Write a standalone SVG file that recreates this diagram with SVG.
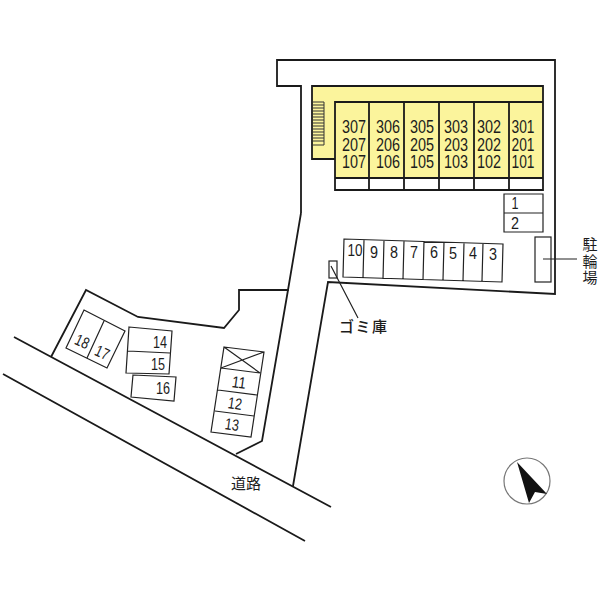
<svg xmlns="http://www.w3.org/2000/svg" width="600" height="600" viewBox="0 0 600 600">
<style>
.l{fill:none;stroke:#1a1a1a;stroke-width:1.8}
.m{fill:none;stroke:#222;stroke-width:1.2}
.t{font-family:"Liberation Sans",Arial,sans-serif;fill:#1c1c1c;text-anchor:middle}
.u{font-size:17.5px}
.p{font-size:16px}
.j{font-family:"Noto Sans CJK JP","Liberation Sans",sans-serif;fill:#1c1c1c;text-anchor:middle;font-size:15px}
</style>
<rect width="600" height="600" fill="#fff"/>
<g id="site">
<path class="l" d="M301 213V86H277V60H555V294L328 282L293 486"/>
<path class="l" d="M301 213L288 290H239V310L224 328L138 317L86 290L51 357"/>
<path class="l" d="M288 290L262 441L236 454"/>
<path class="l" d="M14 337L331 507M3 374L305 541"/>
</g>
<g id="building">
<path d="M312 86H543V178H335V159H312Z" fill="#fbf49c"/>
<path class="l" d="M335 159H312V86H543V190H335V102H543M335 178H543M369 102V190M404 102V190M439 102V190M474 102V190M509 102V190"/>
<path d="M313 102H324V145H313M313 105H324M313 108H324M313 111H324M313 114H324M313 117H324M313 120H324M313 123H324M313 126H324M313 129H324M313 132H324M313 135H324M313 138H324M313 141H324" fill="none" stroke="#333" stroke-width="1"/>
<g class="t u">
<text x="354" y="133" textLength="24" lengthAdjust="spacingAndGlyphs">307</text><text x="354" y="150.5" textLength="24" lengthAdjust="spacingAndGlyphs">207</text><text x="354" y="168" textLength="24" lengthAdjust="spacingAndGlyphs">107</text>
<text x="388" y="133" textLength="24" lengthAdjust="spacingAndGlyphs">306</text><text x="388" y="150.5" textLength="24" lengthAdjust="spacingAndGlyphs">206</text><text x="388" y="168" textLength="24" lengthAdjust="spacingAndGlyphs">106</text>
<text x="422" y="133" textLength="24" lengthAdjust="spacingAndGlyphs">305</text><text x="422" y="150.5" textLength="24" lengthAdjust="spacingAndGlyphs">205</text><text x="422" y="168" textLength="24" lengthAdjust="spacingAndGlyphs">105</text>
<text x="456" y="133" textLength="24" lengthAdjust="spacingAndGlyphs">303</text><text x="456" y="150.5" textLength="24" lengthAdjust="spacingAndGlyphs">203</text><text x="456" y="168" textLength="24" lengthAdjust="spacingAndGlyphs">103</text>
<text x="489" y="133" textLength="24" lengthAdjust="spacingAndGlyphs">302</text><text x="489" y="150.5" textLength="24" lengthAdjust="spacingAndGlyphs">202</text><text x="489" y="168" textLength="24" lengthAdjust="spacingAndGlyphs">102</text>
<text x="523" y="133" textLength="23" lengthAdjust="spacingAndGlyphs">301</text><text x="523" y="150.5" textLength="23" lengthAdjust="spacingAndGlyphs">201</text><text x="523" y="168" textLength="23" lengthAdjust="spacingAndGlyphs">101</text>
</g>
</g>
<g id="parking-1-2">
<path class="m" d="M504 194H543V232H504ZM504 213H543"/>
<g class="t p"><text x="515" y="209" textLength="7" lengthAdjust="spacingAndGlyphs">1</text><text x="515" y="229" textLength="8" lengthAdjust="spacingAndGlyphs">2</text></g>
</g>
<g id="bike-parking">
<rect class="m" x="535" y="237" width="16" height="45"/>
<g class="j"><text x="590" y="250">駐</text><text x="590" y="267">輪</text><text x="590" y="283">場</text></g>
</g>
<g id="parking-3-10">
<path class="m" d="M344 239L503 244L502 282L343 277ZM364 240L363 278M384 240L383 279M404 241L403 279M424 241L423 280M444 242L443 280M464 243L463 281M483 243L482 281"/>
<g class="t p">
<text x="355" y="256" textLength="15" lengthAdjust="spacingAndGlyphs">10</text><text x="374" y="258" textLength="8" lengthAdjust="spacingAndGlyphs">9</text><text x="394" y="258" textLength="8" lengthAdjust="spacingAndGlyphs">8</text><text x="414" y="258" textLength="8" lengthAdjust="spacingAndGlyphs">7</text><text x="434" y="258" textLength="8" lengthAdjust="spacingAndGlyphs">6</text><text x="453" y="259" textLength="8" lengthAdjust="spacingAndGlyphs">5</text><text x="473" y="259" textLength="8" lengthAdjust="spacingAndGlyphs">4</text><text x="493" y="260" textLength="8" lengthAdjust="spacingAndGlyphs">3</text>
</g>
</g>
<g id="garbage">
<rect class="m" x="329" y="261" width="8" height="17"/>
<text class="j" x="363" y="332" textLength="48" style="font-weight:500">ゴミ庫</text>
</g>
<g id="parking-14-16">
<path class="m" d="M129 327L172 331L169 374L126 373ZM128 351L170 353M133 375L176 377L174 401L131 397Z"/>
<g class="t p"><text x="160" y="348" textLength="14" lengthAdjust="spacingAndGlyphs">14</text><text x="158" y="370" textLength="14" lengthAdjust="spacingAndGlyphs">15</text><text x="163" y="394" textLength="14" lengthAdjust="spacingAndGlyphs">16</text></g>
</g>
<g id="parking-17-18">
<path class="m" d="M84 310L125 331L107 368L66 348ZM104 321L87 358"/>
<g class="t p"><text transform="translate(82 342) rotate(25)" y="5" textLength="14" lengthAdjust="spacingAndGlyphs">18</text><text transform="translate(102 353) rotate(25)" y="5" textLength="14" lengthAdjust="spacingAndGlyphs">17</text></g>
</g>
<g id="parking-11-13">
<path class="m" d="M224 347L264 352L251 437L211 432ZM221 368L260 373M218 390L257 395M215 411L254 416M224 347L260 373M264 352L221 368"/>
<g class="t p"><text transform="translate(239 382) rotate(8)" y="6" textLength="14" lengthAdjust="spacingAndGlyphs">11</text><text transform="translate(235 403) rotate(8)" y="6" textLength="14" lengthAdjust="spacingAndGlyphs">12</text><text transform="translate(232 424) rotate(8)" y="6" textLength="14" lengthAdjust="spacingAndGlyphs">13</text></g>
</g>
<g id="connectors">
<path class="m" d="M543 259H577M331 266L358 318"/>
</g>
<g id="road-label"><text class="j" x="246" y="489">道路</text></g>
<g id="compass">
<circle cx="527" cy="481" r="23" fill="#fff" stroke="#777" stroke-width="1.2"/>
<path d="M517 462L547 494L535 492L529 503Z" fill="#111"/>
</g>
</svg>
